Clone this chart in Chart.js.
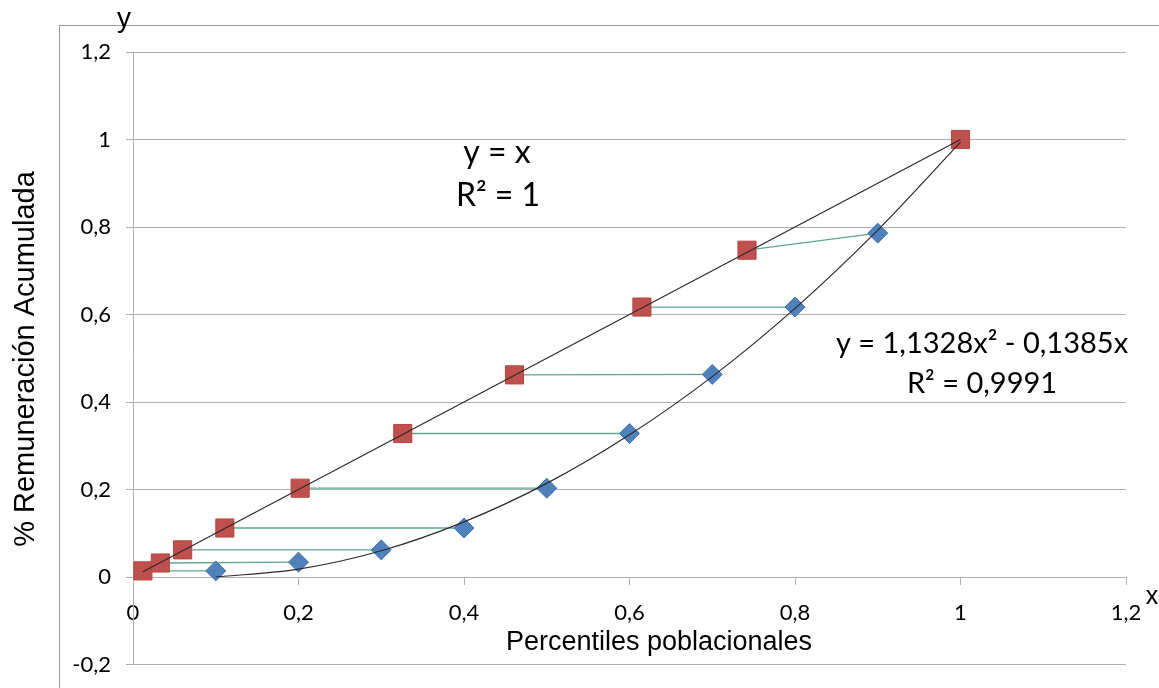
<!DOCTYPE html>
<html lang="es">
<head>
<meta charset="utf-8">
<title>Curva de Lorenz</title>
<script src="https://cdn.jsdelivr.net/npm/chart.js@4/dist/chart.umd.min.js"></script>
<style>
  html, body { margin: 0; padding: 0; background: #ffffff; overflow: hidden; }
  canvas { display: block; }
</style>
</head>
<body>
<canvas id="lorenz" width="1159" height="688"></canvas>
<script>
// Valores.
const percentiles = [0.1, 0.2, 0.3, 0.4, 0.5, 0.6, 0.7, 0.8, 0.9];          // rombos azules (x)
const remuneracion = [0.014, 0.034, 0.062, 0.112, 0.203, 0.328, 0.463, 0.617, 0.786]; // rombos azules (y)
const igualdadX = [0.012, 0.033, 0.06, 0.111, 0.202, 0.326, 0.461, 0.615, 0.742, 1];   // cuadrados rojos (x)
const igualdadY = [0.014, 0.032, 0.062, 0.112, 0.203, 0.328, 0.462, 0.617, 0.747, 1];  // cuadrados rojos (y)

// Líneas de tendencia.
const tendLinealX = [0.012, 1];
const tendLinealY = [0.012, 1];
const tendPoliX = [0.1, 0.2, 0.3, 0.4, 0.5, 0.6, 0.7, 0.8, 0.9, 1];
const tendPoliY = [0.0, 0.018, 0.06, 0.126, 0.214, 0.325, 0.458, 0.614, 0.793, 0.994];

const xTicks = [0, 0.2, 0.4, 0.6, 0.8, 1, 1.2];
const yTicks = [-0.2, 0, 0.2, 0.4, 0.6, 0.8, 1, 1.2];

const GRID = "#b0b0b0";
const RED = "#c0504d";
const BLUE = "#4f81bd";
const GREEN = "#5fa98a";
const TREND = "#2b2b2b";

const zip = (xs, ys) => xs.map((x, i) => ({ x, y: ys[i] }));
const coma = (v) => String(Math.round(v * 10) / 10).replace(".", ",");

// segmentos verdes: cuadrado i -> rombo i
const conectores = percentiles.map((x, i) => ({
  type: "line",
  data: [{ x: igualdadX[i], y: igualdadY[i] }, { x, y: remuneracion[i] }],
  borderColor: GREEN,
  borderWidth: 1.3,
  pointRadius: 0,
  order: 3,
}));

const textos = {
  id: "textos",
  beforeDraw(chart) {
    const c = chart.ctx;
    c.save();
    c.strokeStyle = "#9a9a9a";
    c.lineWidth = 1;
    c.strokeRect(59.5, 25.5, 1200, 800);
    c.restore();
  },
  afterDraw(chart) {
    const c = chart.ctx;
    c.save();
    c.fillStyle = "#000";
    c.textAlign = "center";
    c.textBaseline = "alphabetic";
    c.font = "28px 'Liberation Sans', Arial, sans-serif";
    c.fillText("y", 124, 27);
    c.font = "25px 'Liberation Sans', Arial, sans-serif";
    c.fillText("x", 1152, 604);
    c.font = "27px 'Liberation Sans', Arial, sans-serif";
    c.fillText("Percentiles poblacionales", 659, 650);
    c.save();
    c.translate(34, 359);
    c.rotate(-Math.PI / 2);
    c.font = "29px 'Liberation Sans', Arial, sans-serif";
    c.fillText("% Remuneración Acumulada", 0, 0);
    c.restore();

    c.font = "32px Lato, 'Open Sans', sans-serif";
    c.fillText("y = x", 497, 163);
    c.fillText("R² = 1", 498, 206);
    c.font = "29px Lato, 'Open Sans', sans-serif";
    c.fillText("y = 1,1328x² - 0,1385x", 982, 353);
    c.fillText("R² = 0,9991", 982, 393);
    c.restore();
  },
};

new Chart(document.getElementById("lorenz"), {
  type: "scatter",
  data: {
    datasets: [
      { type: "line", data: zip(tendLinealX, tendLinealY), borderColor: TREND, borderWidth: 1.2, pointRadius: 0, order: 0 },
      { type: "line", data: zip(tendPoliX, tendPoliY), borderColor: TREND, borderWidth: 1.2, pointRadius: 0,
        cubicInterpolationMode: "monotone", order: 0 },
      { data: zip(igualdadX, igualdadY), pointStyle: "rect", pointRadius: 12.8, backgroundColor: RED,
        borderColor: "#b6443f", borderWidth: 1, order: 1 },
      { data: zip(percentiles, remuneracion), pointStyle: "rectRot", pointRadius: 10, backgroundColor: BLUE,
        borderColor: "#3f73b3", borderWidth: 1, order: 1 },
      ...conectores,
    ],
  },
  options: {
    responsive: false,
    animation: false,
    devicePixelRatio: 1,
    layout: { padding: { left: 0, top: 52, right: 33, bottom: 23.5 } },
    plugins: { legend: { display: false }, tooltip: { enabled: false } },
    scales: {
      x: {
        type: "linear",
        min: 0,
        max: 1.2,
        position: { y: 0 },
        afterBuildTicks: (s) => { s.ticks = xTicks.map((v) => ({ value: v })); },
        afterFit: (s) => { s.height = 0; s.paddingTop = 0; s.paddingBottom = 0; },
        ticks: { callback: (v) => coma(v), autoSkip: false, color: "#000", font: { family: "Lato", size: 22 },
          padding: 16, maxRotation: 0 },
        grid: { drawOnChartArea: false, drawTicks: true, tickLength: 7, color: GRID },
        border: { display: true, color: GRID },
      },
      y: {
        min: -0.2,
        max: 1.2,
        afterBuildTicks: (s) => { s.ticks = yTicks.map((v) => ({ value: v })); },
        afterFit: (s) => { s.width = 133; s.paddingTop = 0; s.paddingBottom = 0; },
        ticks: { callback: (v) => coma(v), autoSkip: false, color: "#000", font: { family: "Lato", size: 22 }, padding: 15 },
        grid: { color: GRID, tickLength: 7 },
        border: { display: true, color: GRID },
      },
    },
  },
  plugins: [textos],
});
</script>
</body>
</html>
